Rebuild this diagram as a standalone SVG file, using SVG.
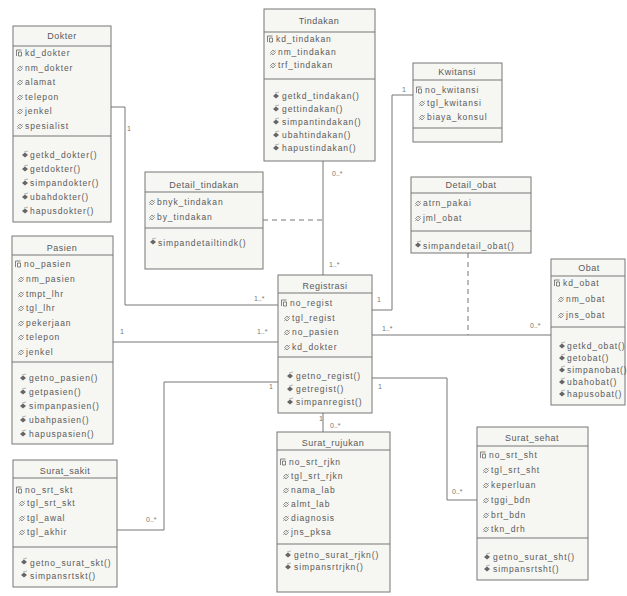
<svg xmlns="http://www.w3.org/2000/svg" width="627" height="596" viewBox="0 0 627 596">
<style>
.box{fill:#f6f6f3;stroke:#777;stroke-width:1}
.ln{stroke:#777;stroke-width:1}
.t{font-family:"Liberation Sans",Arial,sans-serif;font-size:8.5px;fill:#5a5a5a;letter-spacing:0.9px}
.tt{font-family:"Liberation Sans",Arial,sans-serif;font-size:9px;fill:#5a5a5a;text-anchor:middle;letter-spacing:0.5px}
.lb{font-family:"Liberation Sans",Arial,sans-serif;font-size:7px;fill:#777}
.c{fill:none;stroke:#777;stroke-width:1}
.d{fill:none;stroke:#777;stroke-width:1;stroke-dasharray:5,4}
</style>
<defs>
<g id="a"><path d="M0,-2 L2.5,0.5 L0,3 L-2.5,0.5 Z" fill="none" stroke="#777" stroke-width="0.8"/><line x1="-3" y1="3" x2="3" y2="-2" stroke="#888" stroke-width="0.6"/></g>
<g id="k"><path d="M-2.5,-3 L2.5,-3 M-2.5,-3 L-2.5,3 M-0.5,-1 L2.5,-1 L2.5,3 L-0.5,3 Z" fill="none" stroke="#666" stroke-width="0.8"/></g>
<g id="m"><path d="M0,-2.5 L3,0 L0,2.5 L-3,0 Z" fill="#666"/><line x1="-1" y1="-3" x2="3" y2="-4" stroke="#888" stroke-width="0.6"/></g>
</defs>
<rect width="627" height="596" fill="#ffffff"/>
<g id="connectors">
<polyline class="c" points="111,107 125,107 125,305 278,305"/>
<text class="lb" x="127" y="131">1</text><text class="lb" x="254" y="301">1..*</text>
<line class="c" x1="113" y1="342" x2="278" y2="342"/>
<text class="lb" x="120" y="334">1</text><text class="lb" x="257" y="334">1..*</text>
<line class="c" x1="323" y1="161" x2="323" y2="275"/>
<text class="lb" x="332" y="176">0..*</text><text class="lb" x="329" y="267">1..*</text>
<line class="d" x1="263" y1="220" x2="323" y2="220"/>
<polyline class="c" points="372,310 392,310 392,95 413,95"/>
<text class="lb" x="377" y="302">1</text><text class="lb" x="402" y="92">1</text>
<line class="c" x1="372" y1="335" x2="551" y2="335"/>
<text class="lb" x="382" y="331">1..*</text><text class="lb" x="530" y="328">0..*</text>
<line class="d" x1="468" y1="253" x2="468" y2="335"/>
<polyline class="c" points="117,530 164,530 164,382 278,382"/>
<text class="lb" x="269" y="389">1</text><text class="lb" x="146" y="522">0..*</text>
<line class="c" x1="323" y1="413" x2="323" y2="432"/>
<text class="lb" x="319" y="421">1</text><text class="lb" x="330" y="428">0..*</text>
<polyline class="c" points="372,378 447,378 447,500 477,500"/>
<text class="lb" x="378" y="389">1</text><text class="lb" x="452" y="494">0..*</text>
</g>
<g id="Dokter">
<rect class="box" x="13" y="26" width="98" height="196"/>
<line class="ln" x1="13" y1="46" x2="111" y2="46"/><line class="ln" x1="13" y1="136" x2="111" y2="136"/>
<text class="tt" x="62" y="39">Dokter</text>
<use href="#k" x="19" y="53"/><text class="t" x="25" y="56">kd_dokter</text>
<use href="#a" x="20" y="68"/><text class="t" x="25" y="71">nm_dokter</text>
<use href="#a" x="20" y="82"/><text class="t" x="25" y="85">alamat</text>
<use href="#a" x="20" y="97"/><text class="t" x="25" y="100">telepon</text>
<use href="#a" x="20" y="111"/><text class="t" x="25" y="114">jenkel</text>
<use href="#a" x="20" y="126"/><text class="t" x="25" y="129">spesialist</text>
<use href="#m" x="25" y="155"/><text class="t" x="30" y="158">getkd_dokter()</text>
<use href="#m" x="25" y="169"/><text class="t" x="30" y="172">getdokter()</text>
<use href="#m" x="25" y="183"/><text class="t" x="30" y="186">simpandokter()</text>
<use href="#m" x="25" y="197"/><text class="t" x="30" y="200">ubahdokter()</text>
<use href="#m" x="25" y="211"/><text class="t" x="30" y="214">hapusdokter()</text>
</g>
<g id="Tindakan">
<rect class="box" x="264" y="9" width="111" height="152"/>
<line class="ln" x1="264" y1="32" x2="375" y2="32"/><line class="ln" x1="264" y1="79" x2="375" y2="79"/>
<text class="tt" x="319" y="24">Tindakan</text>
<use href="#k" x="270" y="39"/><text class="t" x="276" y="42">kd_tindakan</text>
<use href="#a" x="273" y="52"/><text class="t" x="278" y="55">nm_tindakan</text>
<use href="#a" x="273" y="65"/><text class="t" x="278" y="68">trf_tindakan</text>
<use href="#m" x="276" y="96"/><text class="t" x="282" y="99">getkd_tindakan()</text>
<use href="#m" x="276" y="109"/><text class="t" x="282" y="112">gettindakan()</text>
<use href="#m" x="276" y="122"/><text class="t" x="282" y="125">simpantindakan()</text>
<use href="#m" x="276" y="135"/><text class="t" x="282" y="138">ubahtindakan()</text>
<use href="#m" x="276" y="148"/><text class="t" x="282" y="151">hapustindakan()</text>
</g>
<g id="Kwitansi">
<rect class="box" x="413" y="63" width="89" height="79"/>
<line class="ln" x1="413" y1="80" x2="502" y2="80"/><line class="ln" x1="413" y1="128" x2="502" y2="128"/>
<text class="tt" x="457" y="75">Kwitansi</text>
<use href="#k" x="419" y="90"/><text class="t" x="425" y="93">no_kwitansi</text>
<use href="#a" x="422" y="103"/><text class="t" x="427" y="106">tgl_kwitansi</text>
<use href="#a" x="422" y="117"/><text class="t" x="427" y="120">biaya_konsul</text>
</g>
<g id="Detail_tindakan">
<rect class="box" x="145" y="172" width="118" height="97"/>
<line class="ln" x1="145" y1="192" x2="263" y2="192"/><line class="ln" x1="145" y1="228" x2="263" y2="228"/>
<text class="tt" x="204" y="188">Detail_tindakan</text>
<use href="#a" x="152" y="202"/><text class="t" x="157" y="205">bnyk_tindakan</text>
<use href="#a" x="152" y="217"/><text class="t" x="157" y="220">by_tindakan</text>
<use href="#m" x="153" y="242"/><text class="t" x="158" y="246">simpandetailtindk()</text>
</g>
<g id="Detail_obat">
<rect class="box" x="411" y="177" width="120" height="76"/>
<line class="ln" x1="411" y1="193" x2="531" y2="193"/><line class="ln" x1="411" y1="231" x2="531" y2="231"/>
<text class="tt" x="471" y="188">Detail_obat</text>
<use href="#a" x="418" y="203"/><text class="t" x="423" y="206">atrn_pakai</text>
<use href="#a" x="418" y="218"/><text class="t" x="423" y="221">jml_obat</text>
<use href="#m" x="418" y="245"/><text class="t" x="423" y="249">simpandetail_obat()</text>
</g>
<g id="Pasien">
<rect class="box" x="12" y="236" width="101" height="208"/>
<line class="ln" x1="12" y1="255" x2="113" y2="255"/><line class="ln" x1="12" y1="362" x2="113" y2="362"/>
<text class="tt" x="62" y="251">Pasien</text>
<use href="#k" x="18" y="264"/><text class="t" x="24" y="267">no_pasien</text>
<use href="#a" x="21" y="279"/><text class="t" x="26" y="282">nm_pasien</text>
<use href="#a" x="21" y="294"/><text class="t" x="26" y="297">tmpt_lhr</text>
<use href="#a" x="21" y="308"/><text class="t" x="26" y="311">tgl_lhr</text>
<use href="#a" x="21" y="323"/><text class="t" x="26" y="326">pekerjaan</text>
<use href="#a" x="21" y="337"/><text class="t" x="26" y="340">telepon</text>
<use href="#a" x="21" y="352"/><text class="t" x="26" y="355">jenkel</text>
<use href="#m" x="23" y="378"/><text class="t" x="29" y="381">getno_pasien()</text>
<use href="#m" x="23" y="392"/><text class="t" x="29" y="395">getpasien()</text>
<use href="#m" x="23" y="406"/><text class="t" x="29" y="409">simpanpasien()</text>
<use href="#m" x="23" y="420"/><text class="t" x="29" y="423">ubahpasien()</text>
<use href="#m" x="23" y="434"/><text class="t" x="29" y="437">hapuspasien()</text>
</g>
<g id="Registrasi">
<rect class="box" x="278" y="275" width="94" height="138"/>
<line class="ln" x1="278" y1="293" x2="372" y2="293"/><line class="ln" x1="278" y1="357" x2="372" y2="357"/>
<text class="tt" x="325" y="289">Registrasi</text>
<use href="#k" x="284" y="303"/><text class="t" x="290" y="306">no_regist</text>
<use href="#a" x="287" y="318"/><text class="t" x="292" y="321">tgl_regist</text>
<use href="#a" x="287" y="332"/><text class="t" x="292" y="335">no_pasien</text>
<use href="#a" x="287" y="347"/><text class="t" x="292" y="350">kd_dokter</text>
<use href="#m" x="290" y="376"/><text class="t" x="296" y="379">getno_regist()</text>
<use href="#m" x="290" y="389"/><text class="t" x="296" y="392">getregist()</text>
<use href="#m" x="290" y="402"/><text class="t" x="296" y="405">simpanregist()</text>
</g>
<g id="Obat">
<rect class="box" x="551" y="259" width="74" height="146"/>
<line class="ln" x1="551" y1="276" x2="625" y2="276"/><line class="ln" x1="551" y1="327" x2="625" y2="327"/>
<text class="tt" x="589" y="271">Obat</text>
<use href="#k" x="557" y="283"/><text class="t" x="563" y="286">kd_obat</text>
<use href="#a" x="561" y="299"/><text class="t" x="566" y="302">nm_obat</text>
<use href="#a" x="561" y="315"/><text class="t" x="566" y="318">jns_obat</text>
<use href="#m" x="562" y="346"/><text class="t" x="567" y="349">getkd_obat()</text>
<use href="#m" x="562" y="358"/><text class="t" x="567" y="361">getobat()</text>
<use href="#m" x="562" y="370"/><text class="t" x="567" y="373">simpanobat()</text>
<use href="#m" x="562" y="382"/><text class="t" x="567" y="385">ubahobat()</text>
<use href="#m" x="562" y="394"/><text class="t" x="567" y="397">hapusobat()</text>
</g>
<g id="Surat_sakit">
<rect class="box" x="13" y="460" width="104" height="127"/>
<line class="ln" x1="13" y1="478" x2="117" y2="478"/><line class="ln" x1="13" y1="547" x2="117" y2="547"/>
<text class="tt" x="65" y="474">Surat_sakit</text>
<use href="#k" x="19" y="490"/><text class="t" x="25" y="493">no_srt_skt</text>
<use href="#a" x="22" y="503"/><text class="t" x="27" y="506">tgl_srt_skt</text>
<use href="#a" x="22" y="518"/><text class="t" x="27" y="521">tgl_awal</text>
<use href="#a" x="22" y="532"/><text class="t" x="27" y="535">tgl_akhir</text>
<use href="#m" x="24" y="562"/><text class="t" x="30" y="566">getno_surat_skt()</text>
<use href="#m" x="24" y="575"/><text class="t" x="30" y="579">simpansrtskt()</text>
</g>
<g id="Surat_rujukan">
<rect class="box" x="277" y="432" width="113" height="160"/>
<line class="ln" x1="277" y1="450" x2="390" y2="450"/><line class="ln" x1="277" y1="544" x2="390" y2="544"/>
<text class="tt" x="333" y="446">Surat_rujukan</text>
<use href="#k" x="283" y="462"/><text class="t" x="289" y="465">no_srt_rjkn</text>
<use href="#a" x="286" y="476"/><text class="t" x="291" y="479">tgl_srt_rjkn</text>
<use href="#a" x="286" y="490"/><text class="t" x="291" y="493">nama_lab</text>
<use href="#a" x="286" y="504"/><text class="t" x="291" y="507">almt_lab</text>
<use href="#a" x="286" y="518"/><text class="t" x="291" y="521">diagnosis</text>
<use href="#a" x="286" y="532"/><text class="t" x="291" y="535">jns_pksa</text>
<use href="#m" x="288" y="555"/><text class="t" x="294" y="558">getno_surat_rjkn()</text>
<use href="#m" x="288" y="567"/><text class="t" x="294" y="570">simpansrtrjkn()</text>
</g>
<g id="Surat_sehat">
<rect class="box" x="477" y="427" width="111" height="153"/>
<line class="ln" x1="477" y1="446" x2="588" y2="446"/><line class="ln" x1="477" y1="538" x2="588" y2="538"/>
<text class="tt" x="532" y="441">Surat_sehat</text>
<use href="#k" x="483" y="455"/><text class="t" x="489" y="458">no_srt_sht</text>
<use href="#a" x="486" y="470"/><text class="t" x="491" y="473">tgl_srt_sht</text>
<use href="#a" x="486" y="485"/><text class="t" x="491" y="488">keperluan</text>
<use href="#a" x="486" y="500"/><text class="t" x="491" y="503">tggi_bdn</text>
<use href="#a" x="486" y="515"/><text class="t" x="491" y="518">brt_bdn</text>
<use href="#a" x="486" y="529"/><text class="t" x="491" y="532">tkn_drh</text>
<use href="#m" x="487" y="557"/><text class="t" x="493" y="560">getno_surat_sht()</text>
<use href="#m" x="487" y="569"/><text class="t" x="493" y="572">simpansrtsht()</text>
</g>
</svg>
